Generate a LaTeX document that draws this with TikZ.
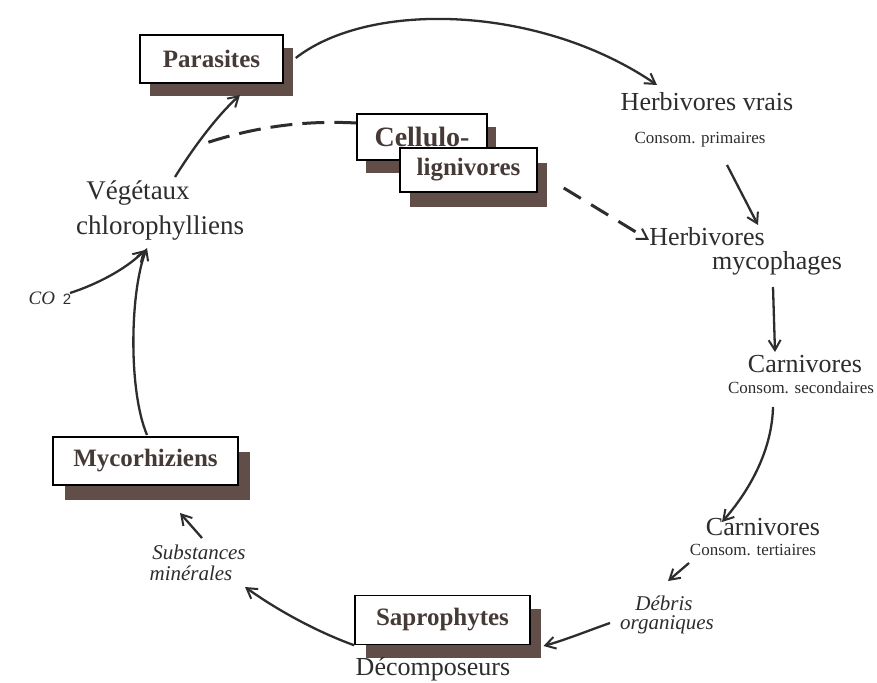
\documentclass[tikz,border=0pt]{standalone}
\usepackage{fontspec}
\setmainfont{Liberation Serif}
\setsansfont{Liberation Sans}
\usetikzlibrary{arrows.meta,shadows}
\definecolor{shad}{RGB}{98,78,72}
\definecolor{ink}{RGB}{45,45,45}
\definecolor{boxtxt}{RGB}{70,58,55}
\begin{document}
\begin{tikzpicture}[x=1pt,y=-1pt,
 box/.style={draw=black, line width=1.5pt, fill=white, inner sep=0pt, text=boxtxt, font=\fontsize{25}{27}\selectfont\bfseries},
 lbl/.style={text=ink, inner sep=0pt, font=\fontsize{26}{28}\selectfont},
 sml/.style={text=ink, inner sep=0pt, font=\fontsize{17}{19}\selectfont},
 hand/.style={text=ink, inner sep=0pt, font=\fontsize{21}{23}\selectfont\itshape},
 arr/.style={draw=ink, line width=2.3pt, -{Straight Barb[length=10pt,width=12pt,line width=2pt]}},
 dsh/.style={draw=ink, line width=3pt, dash pattern=on 22pt off 10pt},
]
\fill[white] (0,0) rectangle (877,682);
\useasboundingbox (0,0) rectangle (877,682);

% boxed labels
\node[box, minimum width=143pt, minimum height=48pt, drop shadow={shadow xshift=10pt,shadow yshift=-13pt,opacity=1,fill=shad}] (par) at (211.5,59) {Parasites};
\node[box, minimum width=130pt, minimum height=46pt, font=\fontsize{28}{30}\selectfont\bfseries, drop shadow={shadow xshift=9pt,shadow yshift=-13pt,opacity=1,fill=shad}] (cel) at (422,137) {Cellulo-};
\node[box, minimum width=137pt, minimum height=44pt, drop shadow={shadow xshift=10pt,shadow yshift=-15pt,opacity=1,fill=shad}] (lig) at (468.5,170) {lignivores};
\node[box, minimum width=185pt, minimum height=48pt, drop shadow={shadow xshift=12pt,shadow yshift=-15pt,opacity=1,fill=shad}] (myc) at (145.5,461) {Mycorhiziens};
\node[box, minimum width=175pt, minimum height=49pt, drop shadow={shadow xshift=11pt,shadow yshift=-13pt,opacity=1,fill=shad}] (sap) at (442.5,620) {Saprophytes};

% plain labels
\node[lbl] (hv) at (707,102) {Herbivores vrais};
\node[sml] (cp) at (700,140) {Consom. primaires};
\node[lbl] (hm1) at (707,237) {Herbivores};
\node[lbl] (hm2) at (777,263) {mycophages};
\node[lbl] (c1) at (805,364) {Carnivores};
\node[sml] (cs) at (801,388) {Consom. secondaires};
\node[lbl] (c2) at (763,527) {Carnivores};
\node[sml] (ct) at (753,550) {Consom. tertiaires};
\node[hand] (deb) at (664,603) {Débris};
\node[hand] (org) at (667,625) {organiques};
\node[lbl] (dec) at (433,669) {Décomposeurs};
\node[hand] (sub) at (199,552) {Substances};
\node[hand] (min) at (191,573) {minérales};
\node[lbl, font=\fontsize{27}{29}\selectfont] (veg) at (138,193) {Végétaux};
\node[lbl, font=\fontsize{27}{29}\selectfont] (chl) at (160,228) {chlorophylliens};
\node[text=ink, inner sep=0pt] (co2) at (50,298) {\fontsize{19}{21}\selectfont\itshape CO\, {\upshape\sffamily\fontsize{15}{17}\selectfont 2}};

% connectors
\draw[arr] ([shift={(12,-1)}]par.east) .. controls (370,0) and (540,5) .. ([shift={(-50,-17)}]hv.center);
\draw[arr] ([shift={(27,25)}]cp.center) -- ([shift={(51,-12)}]hm1.center);
\draw[arr] ([shift={(-4,24)}]hm2.center) -- ([shift={(-30,-12)}]c1.center);
\draw[arr] ([shift={(-28,19)}]cs.center) .. controls (772,450) and (750,490) .. ([shift={(-41,-5)}]c2.center);
\draw[arr] ([shift={(-64,13)}]ct.center) -- ([shift={(4,-22)}]deb.center);
\draw[arr] ([shift={(-57,-2)}]org.center) .. controls (590,630) and (565,640) .. ([shift={(101,26)}]sap.center);
\draw[arr] (sap.south west) .. controls (320,633) and (280,612) .. ([shift={(54,14)}]min.center);
\draw[arr] ([shift={(3,-14)}]sub.center) -- ([shift={(34.5,52)}]myc.center);
\draw[arr] ([shift={(1.5,-26)}]myc.center) .. controls (128,390) and (130,290) .. ([shift={(-13,20)}]chl.center);
\draw[arr] ([shift={(20,-5)}]co2.center) .. controls (95,285) and (125,270) .. ([shift={(-15,22)}]chl.center);
\draw[arr] ([shift={(37,-16)}]veg.center) .. controls (195,145) and (218,115) .. ([shift={(28.5,36)}]par.center);
\coordinate (dend) at (200,145);
\draw[dsh] ([shift={(0,-14)}]cel.west) .. controls (300,120) and (250,128) .. (dend);
\draw[dsh, -{Straight Barb[length=10pt,width=12pt,line width=2pt]}, dash pattern=on 20pt off 12pt] ([shift={(26,18)}]lig.east) -- ([shift={(0,3)}]hm1.west);
\end{tikzpicture}
\end{document}
